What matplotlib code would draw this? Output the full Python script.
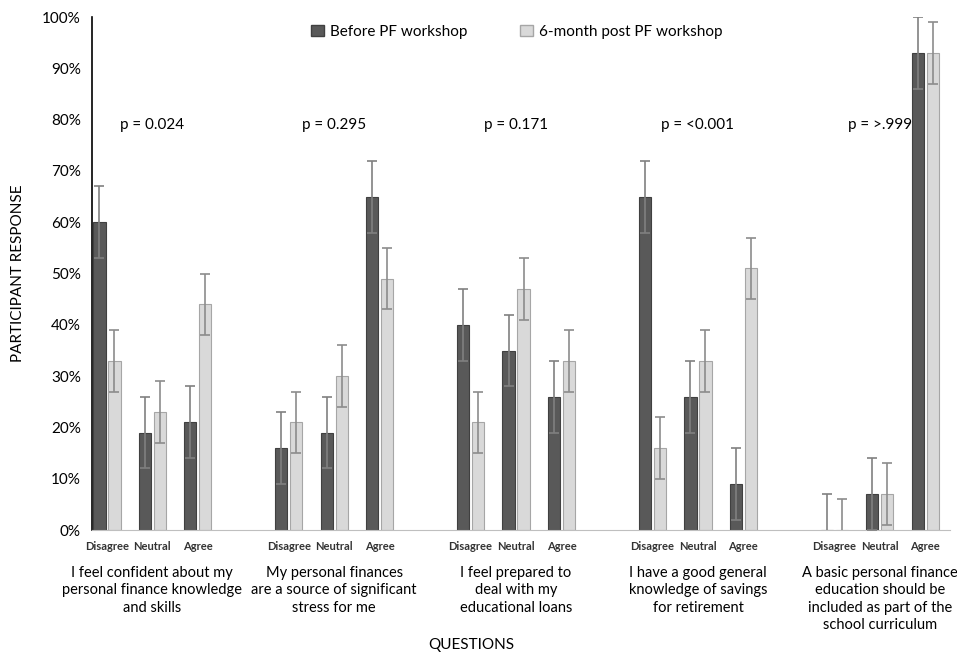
import numpy as np
import matplotlib.pyplot as plt
from matplotlib.patches import Patch
from matplotlib.ticker import FuncFormatter

plt.rcParams['font.family'] = ['Lato', 'DejaVu Sans']

responses = ['Disagree', 'Neutral', 'Agree']
questions = ['I feel confident about my\npersonal finance knowledge\nand skills',
             'My personal finances\nare a source of significant\nstress for me',
             'I feel prepared to\ndeal with my\neducational loans',
             'I have a good general\nknowledge of savings\nfor retirement',
             'A basic personal finance\neducation should be\nincluded as part of the\nschool curriculum']
p_values = ['p = 0.024', 'p = 0.295', 'p = 0.171', 'p = <0.001', 'p = >.999']

# percent, per question: Disagree, Neutral, Agree
before = [60, 19, 21, 16, 19, 65, 40, 35, 26, 65, 26, 9, 0, 7, 93]
after = [33, 23, 44, 21, 30, 49, 21, 47, 33, 16, 33, 51, 0, 7, 93]
before_err = [7] * 15
after_err = [6] * 15

DARK = '#595959'
LIGHT = '#d9d9d9'

fig = plt.figure(figsize=(9.57, 6.56), dpi=100)
ax = fig.add_axes([0.096, 0.192, 0.897, 0.782])

# one empty slot between question groups
pos = np.array([g * 4 + i for g in range(len(questions)) for i in range(3)])
w = 0.27
off = 0.165

ax.bar(pos - off, before, w, color=DARK, edgecolor='#404040', linewidth=0.8, zorder=2)
ax.bar(pos + off, after, w, color=LIGHT, edgecolor='#a6a6a6', linewidth=0.8, zorder=2)
ax.errorbar(pos - off, before, yerr=before_err, fmt='none', ecolor='#808080',
            elinewidth=1.2, capsize=3.5, capthick=1.2, zorder=3)
ax.errorbar(pos + off, after, yerr=after_err, fmt='none', ecolor='#8c8c8c',
            elinewidth=1.2, capsize=3.5, capthick=1.2, zorder=3)

ax.set_xlim(-0.33, 18.55)
ax.set_ylim(0, 100)
ax.set_yticks(range(0, 101, 10))
ax.yaxis.set_major_formatter(FuncFormatter(lambda v, _: f'{v:.0f}%'))
ax.tick_params(axis='y', length=0, labelsize=11, pad=8)
ax.set_xticks(pos)
ax.set_xticklabels(responses * len(questions), fontsize=8, fontweight='bold', color='#333333')
ax.tick_params(axis='x', length=0, pad=8)

for s in ['top', 'right']:
    ax.spines[s].set_visible(False)
ax.spines['left'].set_color('black')
ax.spines['left'].set_linewidth(1.2)
ax.spines['bottom'].set_color('#bfbfbf')

for g, (q, p) in enumerate(zip(questions, p_values)):
    ax.text(g * 4 + 1, 79, p, ha='center', va='center', fontsize=11)
    ax.text(g * 4 + 1, -7, q, ha='center', va='top', fontsize=10.5,
            linespacing=1.3, transform=ax.transData)

ax.set_ylabel('PARTICIPANT RESPONSE', fontsize=11, labelpad=12)
fig.text(0.493, 0.017, 'QUESTIONS', ha='center', va='center', fontsize=11)

handles = [Patch(facecolor=DARK, edgecolor='#404040', label='Before PF workshop'),
           Patch(facecolor=LIGHT, edgecolor='#a6a6a6', label='6-month post PF workshop')]
ax.legend(handles=handles, loc='upper center', bbox_to_anchor=(0.495, 1.012), ncol=2,
          frameon=False, fontsize=11, handlelength=0.8, handleheight=0.8,
          columnspacing=3.5, handletextpad=0.4)

fig.savefig('out.png', dpi=100)
